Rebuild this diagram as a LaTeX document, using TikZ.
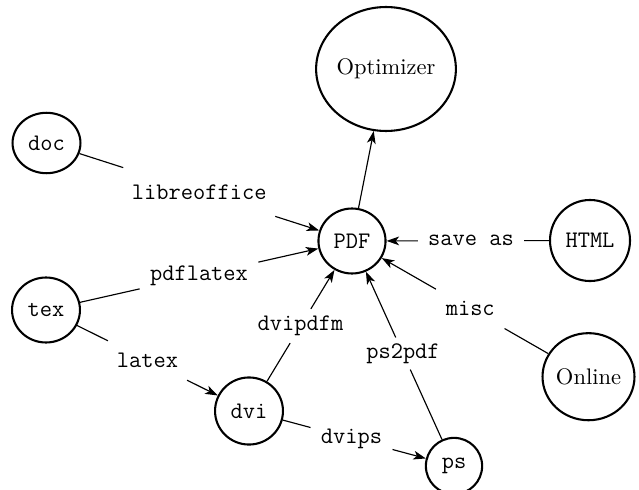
\documentclass[tikz,border=0pt]{standalone}
\usepackage{fontspec}
\usetikzlibrary{arrows.meta,shapes.geometric}
\begin{document}
\begin{tikzpicture}[x=0.48pt,y=-0.48pt,
  tt/.style={font=\ttfamily\fontsize{11.4}{13}\selectfont},
  nd/.style={draw,line width=1pt,ellipse,inner sep=0pt,tt},
  sn/.style={draw,line width=1pt,ellipse,inner sep=0pt,font=\fontsize{10.8}{13}\selectfont},
  lab/.style={rectangle,inner xsep=4.8pt,inner ysep=0pt,minimum height=18.5pt,tt},
  ln/.style={line width=0.55pt},
  arr/.style={line width=0.55pt,-{Stealth[length=6pt,width=4.2pt,inset=1.6pt]}}]
\useasboundingbox (0,0) rectangle (639,489);
% nodes
\node[sn,minimum width=58.6pt,minimum height=59.5pt] (opt) at (386,69) {Optimizer};
\node[nd,minimum width=32.6pt,minimum height=29pt] (doc) at (46.5,143) {doc};
\node[nd,minimum width=32.6pt,minimum height=31.2pt] (tex) at (46,310) {tex};
\node[nd,minimum width=32.2pt,minimum height=31.2pt] (pdf) at (352,241) {PDF};
\node[nd,minimum width=38.4pt,minimum height=38.9pt] (html) at (590,240.5) {HTML};
\node[sn,minimum width=39.8pt,minimum height=41.8pt] (online) at (588.5,376.7) {Online};
\node[nd,minimum width=32.6pt,minimum height=32.2pt] (dvi) at (249,411) {dvi};
\node[nd,minimum width=27pt,minimum height=27pt] (ps) at (454,466) {ps};
% labels
\path (doc.center) -- node[lab,minimum height=23pt] (l1) {libreoffice} (pdf.center);
\path (tex.center) -- node[lab] (l2) {pdflatex} (pdf.center);
\path (tex.center) -- node[lab] (l3) {latex} (dvi.center);
\path (dvi.center) -- node[lab,minimum height=16pt] (l4) {dvipdfm} (pdf.center);
\path (ps.center) -- node[lab,minimum height=15pt] (l5) {ps2pdf} (pdf.center);
\path (dvi.center) -- node[lab] (l6) {dvips} (ps.center);
\path (html.center) -- node[lab] (l7) {save as} (pdf.center);
\path (online.center) -- node[lab] (l8) {misc} (pdf.center);
% connectors
\draw[ln] (doc) -- (l1); \draw[arr] (l1) -- (pdf);
\draw[ln] (tex) -- (l2); \draw[arr] (l2) -- (pdf);
\draw[ln] (tex) -- (l3); \draw[arr] (l3) -- (dvi);
\draw[ln] (dvi) -- (l4); \draw[arr] (l4) -- (pdf);
\draw[ln] (ps) -- (l5); \draw[arr] (l5) -- (pdf);
\draw[ln] (dvi) -- (l6); \draw[arr] (l6) -- (ps);
\draw[ln] (html) -- (l7); \draw[arr] (l7) -- (pdf);
\draw[ln] (online) -- (l8); \draw[arr] (l8) -- (pdf);
\draw[arr] (pdf) -- (opt);
\end{tikzpicture}
\end{document}
